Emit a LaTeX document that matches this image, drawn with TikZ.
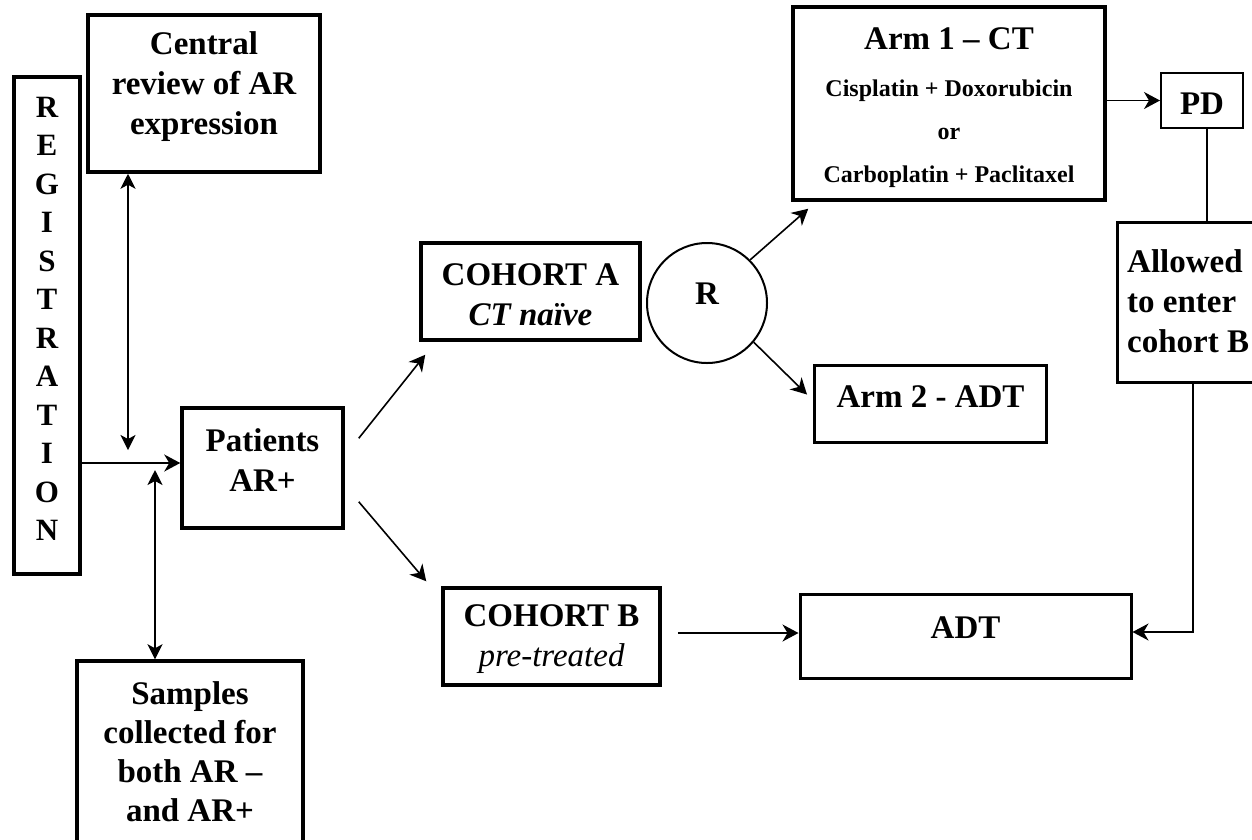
\documentclass[tikz,border=0pt]{standalone}
\usepackage{fontspec}
\setmainfont{Liberation Serif}
\usetikzlibrary{arrows.meta,calc}
\begin{document}
\begin{tikzpicture}[x=1pt,y=-1pt,
  box/.style={draw, line width=3.5pt, inner sep=0pt},
  thinbox/.style={draw, line width=2pt, inner sep=0pt},
  big/.style={font=\fontsize{33}{40}\selectfont\bfseries, align=center, inner sep=0pt},
  small/.style={font=\fontsize{24}{43}\selectfont\bfseries, align=center, inner sep=0pt},
  conn/.style={line width=1.6pt, -{Stealth[length=16pt,width=17pt,inset=5pt]}},
  dconn/.style={line width=1.6pt, {Stealth[length=15pt,width=15pt,inset=4pt]}-{Stealth[length=15pt,width=15pt,inset=4pt]}},
  plain/.style={line width=1.6pt}
]
\useasboundingbox (0,0) rectangle (1252,839);
\fill[white] (0,0) rectangle (1252,839);

% boxes
\node[box, minimum width=66pt, minimum height=497pt] (reg) at (47,325.5) {};
\node[box, minimum width=232pt, minimum height=157pt] (central) at (204,93.5) {};
\node[box, minimum width=161pt, minimum height=120pt] (pat) at (262.5,468) {};
\node[box, minimum width=226pt, minimum height=190pt] (samp) at (190,756) {};
\node[box, minimum width=219pt, minimum height=97pt] (coha) at (530.5,291.5) {};
\node[thinbox, circle, minimum size=120pt] (R) at (707,303) {};
\node[box, minimum width=312pt, minimum height=193pt] (arm1) at (949,103.5) {};
\node[thinbox, minimum width=82pt, minimum height=55pt] (pd) at (1202,100.5) {};
\node[box, line width=3pt, minimum width=150pt, minimum height=160pt] (allow) at (1192,302) {};
\node[box, line width=3pt, minimum width=232pt, minimum height=77pt] (arm2) at (930.5,403.5) {};
\node[box, minimum width=217pt, minimum height=97pt] (cohb) at (551.5,636.5) {};
\node[box, line width=3pt, minimum width=331pt, minimum height=84pt] (adt) at (965.5,636) {};

% texts
\node[font=\fontsize{31}{38.5}\selectfont\bfseries, align=center, inner sep=0pt] (regT) at (47,319)
  {R\\E\\G\\I\\S\\T\\R\\A\\T\\I\\O\\N};
\node[big] (centralT) at (204,87) {Central\\review of AR\\expression};
\node[big] (patT) at (262.5,460) {Patients\\AR+};
\node[big, font=\fontsize{33}{39}\selectfont\bfseries] (sampT) at (190,751.5) {Samples\\collected for\\both AR –\\and AR+};
\node[big] (cohaT) at (530.5,295) {COHORT A\\\textit{CT naïve}};
\node[big] (RT) at (707,294) {R};
\node[big] (arm1T) at (949,39) {Arm 1 – CT};
\node[small] (arm1S) at (949,133.5) {Cisplatin + Doxorubicin\\or\\Carboplatin + Paclitaxel};
\node[big] (pdT) at (1202,104) {PD};
\node[big, align=left, anchor=west] (allowT) at (1127,301) {Allowed\\to enter\\cohort B};
\node[big] (arm2T) at (930.5,397) {Arm 2 - ADT};
\node[big] (cohbT) at (551.5,639) {COHORT B\\\mdseries\itshape pre-treated};
\node[big] (adtT) at (965.5,628) {ADT};

% junction coordinates
\coordinate (junc) at (reg.east |- 0,463);
\coordinate (cdown) at (128,450);
\coordinate (sup) at (155,470);

% connectors
\draw[conn] (junc) -- (pat.west |- junc);
\draw[dconn] (central.south -| cdown) -- (cdown);
\draw[dconn] (sup) -- (samp.north -| sup);
\draw[conn] ($(pat.north east)+(14,32)$) -- ($(coha.south west)+(6,13)$);
\draw[conn] ($(pat.south east)+(14,-28)$) -- ($(cohb.north west)+(-15,-5)$);
\draw[conn] (R.45) -- ($(arm1.south west)+(17,7)$);
\draw[conn] (R.-40) -- ($(arm2.north west)+(-6,31)$);
\draw[conn] (arm1.east |- pd) -- (pd.west);
\draw[plain] (pd.south -| 1207,0) -- (allow.north -| 1207,0);
\draw[conn] ($(cohb.east |- 0,633)+(16,0)$) -- (adt.west |- 0,633);
\draw[conn] (allow.south -| 1193,0) |- (adt.east |- 0,632);
\end{tikzpicture}
\end{document}
